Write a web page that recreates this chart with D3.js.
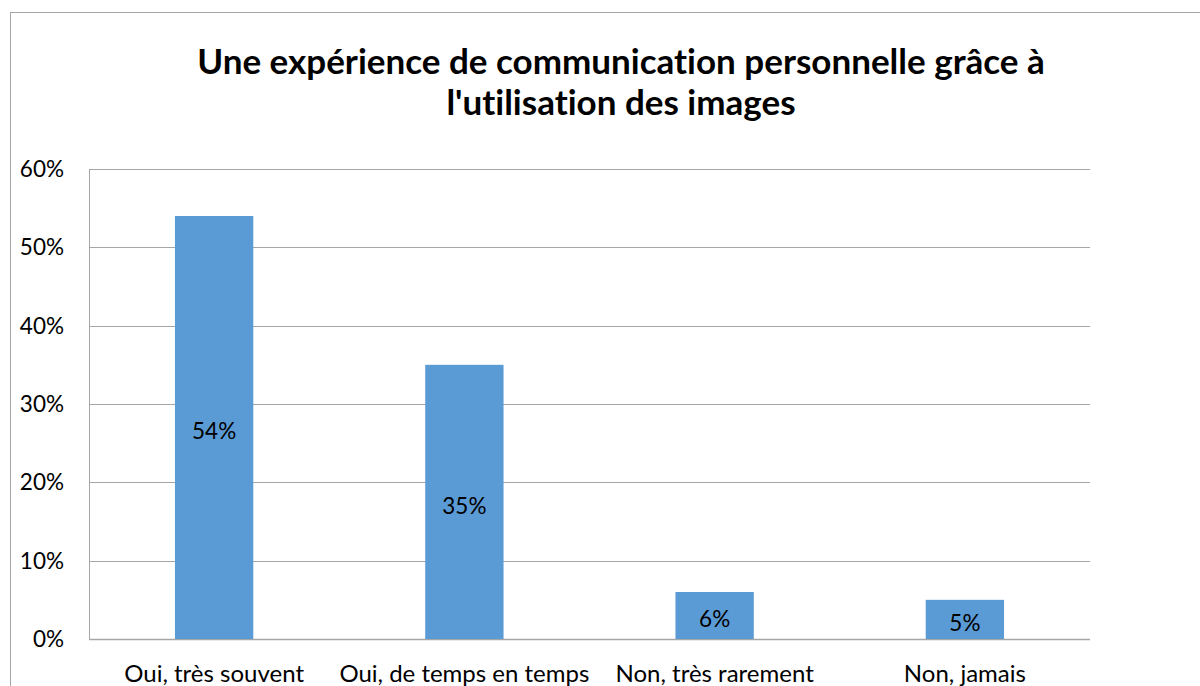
<!DOCTYPE html>
<html>
<head>
<meta charset="utf-8">
<script src="https://cdn.jsdelivr.net/npm/d3@7"></script>
<style>
  body { margin: 0; background: #fff; }
  svg { display: block; font-family: Lato, "Open Sans", sans-serif; font-variant-ligatures: none; }
</style>
</head>
<body>
<svg></svg>
<script>
var categories = ["Oui, très souvent", "Oui, de temps en temps", "Non, très rarement", "Non, jamais"];
var values = [0.54, 0.35, 0.06, 0.05];
var yTicks = [0, 0.1, 0.2, 0.3, 0.4, 0.5, 0.6];
var titleLines = ["Une expérience de communication personnelle grâce à", "l'utilisation des images"];

var width = 1200, height = 686;
var svg = d3.select("svg").attr("width", width).attr("height", height);

// chart frame (runs off the right edge)
svg.append("rect")
    .attr("x", 10.5).attr("y", 12.5)
    .attr("width", 1222).attr("height", 700)
    .attr("fill", "#fff")
    .attr("stroke", "#a6a6a6")
    .attr("stroke-width", 1);

var plot = {left: 89, right: 1090, top: 169, bottom: 639};

var x = d3.scaleBand()
    .domain(categories)
    .range([plot.left, plot.right])
    .paddingInner(0.687)
    .paddingOuter(0.3435);

var y = d3.scaleLinear()
    .domain([0, 0.6])
    .range([plot.bottom, plot.top]);

// gridlines
svg.append("g")
    .selectAll("line")
    .data(yTicks)
    .enter().append("line")
    .attr("x1", plot.left).attr("x2", plot.right)
    .attr("y1", function (d) { return Math.round(y(d)) + 0.5; })
    .attr("y2", function (d) { return Math.round(y(d)) + 0.5; })
    .attr("stroke", "#a6a6a6")
    .attr("stroke-width", function (d) { return d === 0 ? 1.5 : 1; });

// y axis line
svg.append("line")
    .attr("x1", plot.left + 0.5).attr("x2", plot.left + 0.5)
    .attr("y1", plot.top).attr("y2", plot.bottom)
    .attr("stroke", "#a6a6a6");

// y tick labels
svg.append("g")
    .selectAll("text")
    .data(yTicks)
    .enter().append("text")
    .attr("x", 64)
    .attr("y", function (d) { return y(d); })
    .attr("dy", "0.35em")
    .attr("text-anchor", "end")
    .attr("font-size", 22.5)
    .attr("fill", "#000")
    .text(d3.format(".0%"));

// bars
svg.append("g")
    .selectAll("rect")
    .data(values)
    .enter().append("rect")
    .attr("x", function (d, i) { return x(categories[i]); })
    .attr("width", x.bandwidth())
    .attr("y", function (d) { return y(d); })
    .attr("height", function (d) { return y(0) - y(d); })
    .attr("fill", "#5b9bd5");

// data labels
svg.append("g")
    .selectAll("text")
    .data(values)
    .enter().append("text")
    .attr("x", function (d, i) { return x(categories[i]) + x.bandwidth() / 2; })
    .attr("y", function (d) { return (y(d) + y(0)) / 2 + 4; })
    .attr("dy", "0.35em")
    .attr("text-anchor", "middle")
    .attr("font-size", 22.5)
    .attr("fill", "#000")
    .text(d3.format(".0%"));

// category labels
svg.append("g")
    .selectAll("text")
    .data(categories)
    .enter().append("text")
    .attr("x", function (d) { return x(d) + x.bandwidth() / 2; })
    .attr("y", 682)
    .attr("text-anchor", "middle")
    .attr("font-size", 24)
    .attr("fill", "#000")
    .text(function (d) { return d; });

// title
svg.append("g")
    .selectAll("text")
    .data(titleLines)
    .enter().append("text")
    .attr("x", 621)
    .attr("y", function (d, i) { return 74 + i * 41; })
    .attr("text-anchor", "middle")
    .attr("font-size", 35)
    .attr("font-weight", "bold")
    .attr("fill", "#000")
    .text(function (d) { return d; });
</script>
</body>
</html>
